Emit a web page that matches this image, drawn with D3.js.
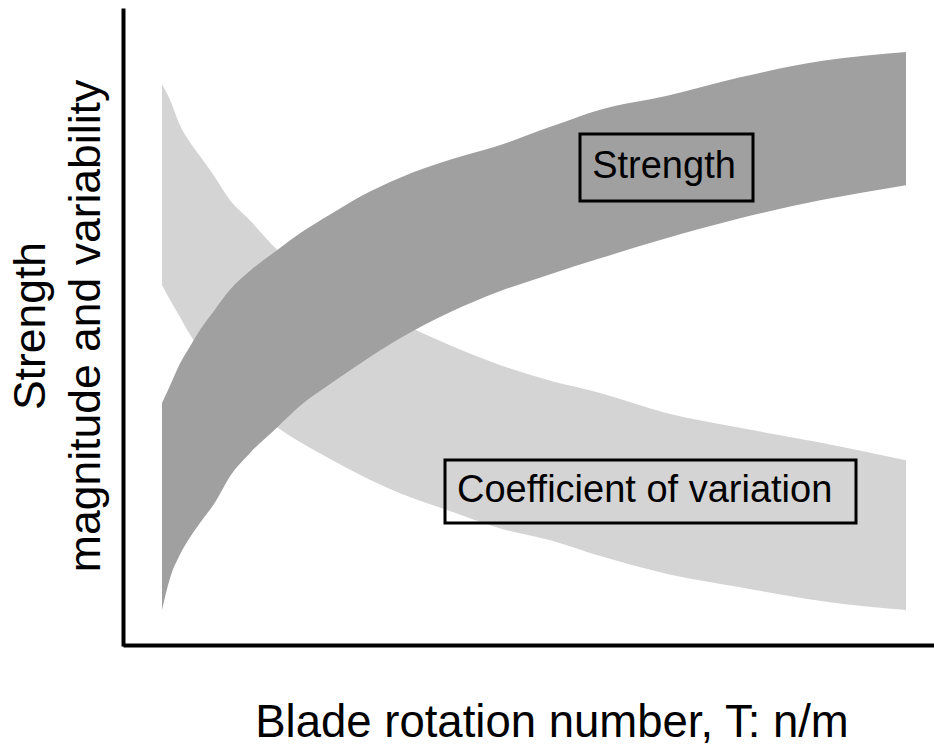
<!DOCTYPE html>
<html>
<head>
<meta charset="utf-8">
<script src="https://cdn.jsdelivr.net/npm/d3@7"></script>
<style>
  body { margin: 0; background: #fff; }
  text { font-family: "Liberation Sans", Arial, sans-serif; fill: #000; }
</style>
</head>
<body>
<svg id="chart" width="934" height="746"></svg>
<script>
// blade rotation number (arbitrary units, no ticks on the original)
const T = [0, 1.1, 2.4, 3.8, 5.1, 7.1, 9.1, 11.8, 15.5, 18.5, 22.6, 26.6, 32, 38.7, 45.4, 52.2, 58.9, 67.9, 77.7, 88.8, 100]

// strength band (upper / lower edge)
const strengthHigh = [38.1, 40.9, 44.3, 47.1, 49.6, 52.8, 55.9, 58.9, 62.2, 64.8, 67.8, 70.6, 73.6, 76.4, 78.7, 81.6, 84.3, 86.5, 89.4, 92.0, 93.4]
const strengthLow  = [5.5, 10.6, 14.2, 17.0, 19.2, 22.4, 26.5, 30.2, 34.3, 37.6, 41.1, 44.3, 48.3, 52.4, 55.7, 58.4, 60.9, 64.1, 67.2, 70.1, 72.4]

// coefficient of variation band (upper / lower edge)
const covHigh = [88.3, 85.8, 81.9, 79.1, 77.0, 73.7, 70.1, 66.9, 62.2, 59.1, 55.9, 53.4, 50.7, 47.2, 44.1, 41.6, 39.7, 36.5, 34.2, 31.8, 29.1]
const covLow  = [56.7, 54.3, 51.7, 48.8, 46.6, 43.9, 41.3, 38.1, 34.3, 32.0, 29.3, 26.8, 23.9, 21.1, 18.4, 16.5, 14.0, 11.2, 9.1, 6.9, 5.5]

const labels = ["Strength", "Coefficient of variation"]
const yTitle = ["Strength", "magnitude and variability"]
const xTitle = "Blade rotation number, T: n/m"

const svg = d3.select("#chart")

let xScale = d3.scaleLinear().domain([0, 100]).range([162, 906])
let yScale = d3.scaleLinear().domain([0, 100]).range([645, 10])

function band(hi, lo) {
    return T.map(function (t, i) { return {x: t, y0: lo[i], y1: hi[i]} })
}

let area = d3.area()
    .x(function (d) { return xScale(d.x) })
    .y0(function (d) { return yScale(d.y0) })
    .y1(function (d) { return yScale(d.y1) })
    .curve(d3.curveMonotoneX)

// light band first, dark band drawn over it
svg.append("path")
    .datum(band(covHigh, covLow))
    .attr("d", area)
    .style("fill", "#d4d4d4")

svg.append("path")
    .datum(band(strengthHigh, strengthLow))
    .attr("d", area)
    .style("fill", "#a0a0a0")

// axis frame, no ticks
let xFrame = d3.scaleLinear().range([123, 934])
let yFrame = d3.scaleLinear().range([646, 8])

svg.append("g").attr("class", "axis")
    .attr("transform", `translate(0,645)`)
    .call(d3.axisBottom(xFrame).tickValues([]).tickSizeOuter(0))
svg.append("g").attr("class", "axis")
    .attr("transform", `translate(123,0)`)
    .call(d3.axisLeft(yFrame).tickValues([]).tickSizeOuter(0))
svg.selectAll(".axis path").style("stroke", "#000").style("stroke-width", 4)

// boxed labels
let boxes = [
    {x: 580, y: 134, w: 173, h: 67, tx: 664, ty: 178},
    {x: 445, y: 460, w: 411, h: 63, tx: 457, ty: 502}
]
boxes.forEach(function (b, i) {
    svg.append("rect")
        .attr("x", b.x).attr("y", b.y)
        .attr("width", b.w).attr("height", b.h)
        .style("fill", "none")
        .style("stroke", "#000")
        .style("stroke-width", 3)
    svg.append("text")
        .attr("x", b.tx).attr("y", b.ty)
        .attr("text-anchor", i == 0 ? "middle" : "start")
        .style("font-size", "38px")
        .text(labels[i])
})

// y title (two lines)
let yt = svg.append("text")
    .attr("transform", `translate(0,326) rotate(-90)`)
    .attr("text-anchor", "middle")
    .style("font-size", "44.5px")
yt.append("tspan").attr("x", 0).attr("y", 45).text(yTitle[0])
yt.append("tspan").attr("x", 0).attr("y", 100).text(yTitle[1])

// x title
svg.append("text")
    .attr("x", 552).attr("y", 737)
    .attr("text-anchor", "middle")
    .style("font-size", "45.5px")
    .text(xTitle)
</script>
</body>
</html>
